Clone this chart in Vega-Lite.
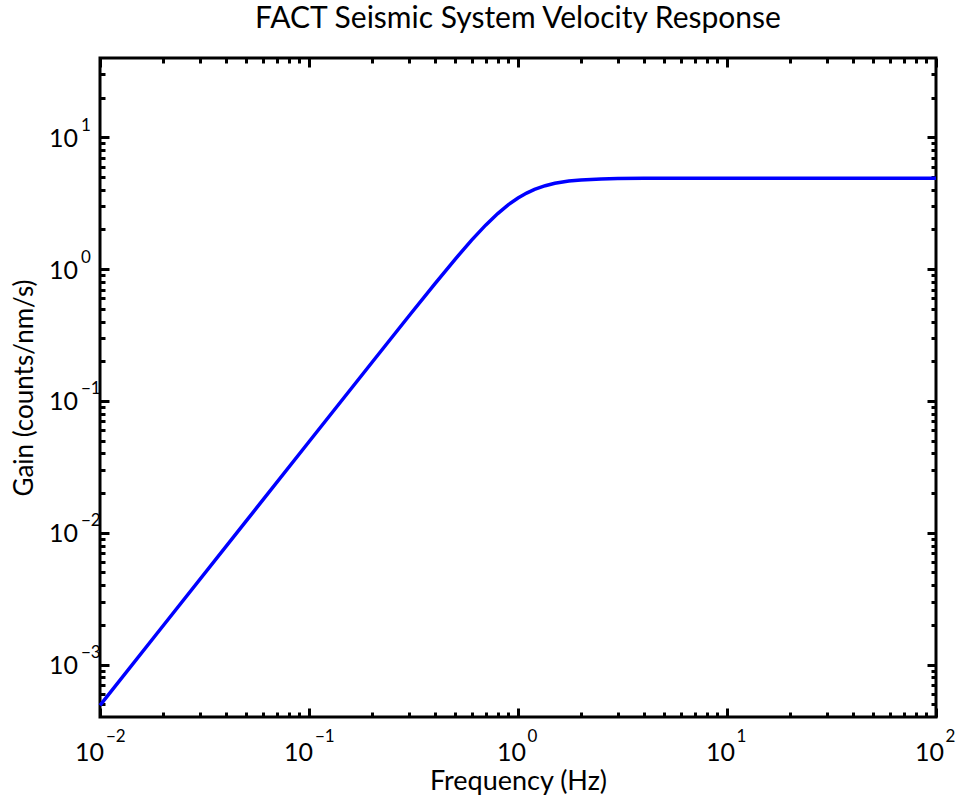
{
  "$schema": "https://vega.github.io/schema/vega-lite/v6.json",
  "width": 836,
  "height": 659,
  "autosize": "none",
  "padding": {"left": 100, "top": 58, "right": 20, "bottom": 80},
  "background": "white",
  "config": {
    "font": "Lato",
    "view": {"stroke": "black", "strokeWidth": 3},
    "axis": {"domain": false, "grid": false, "tickColor": "black", "tickWidth": 3, "labelColor": "black", "titleColor": "black", "labelFont": "Lato", "titleFont": "Lato", "labelFlush": false, "labelOverlap": false}
  },
  "title": {"text": "FACT Seismic System Velocity Response", "fontSize": 30, "fontWeight": "normal", "font": "Lato", "color": "black", "anchor": "middle", "baseline": "alphabetic", "offset": -1},
  "data": {"values": [
    {"f": 0.01, "g": 0.00049},
    {"f": 0.02, "g": 0.00196},
    {"f": 0.05, "g": 0.01225},
    {"f": 0.1, "g": 0.049},
    {"f": 0.2, "g": 0.1958},
    {"f": 0.3, "g": 0.4392},
    {"f": 0.4, "g": 0.7742},
    {"f": 0.5, "g": 1.1884},
    {"f": 0.6, "g": 1.6597},
    {"f": 0.7, "g": 2.156},
    {"f": 0.8, "g": 2.641},
    {"f": 0.9, "g": 3.084},
    {"f": 1.0, "g": 3.465},
    {"f": 1.1, "g": 3.777},
    {"f": 1.2, "g": 4.025},
    {"f": 1.35, "g": 4.296},
    {"f": 1.5, "g": 4.478},
    {"f": 1.75, "g": 4.658},
    {"f": 2, "g": 4.754},
    {"f": 2.5, "g": 4.838},
    {"f": 3, "g": 4.87},
    {"f": 4, "g": 4.89},
    {"f": 5, "g": 4.896},
    {"f": 7, "g": 4.899},
    {"f": 10, "g": 4.9},
    {"f": 20, "g": 4.9},
    {"f": 50, "g": 4.9},
    {"f": 100, "g": 4.9}
  ]},
  "layer": [
    {
      "mark": {"type": "line", "color": "#0000ff", "strokeWidth": 3.5},
      "encoding": {
        "x": {"field": "f", "type": "quantitative",
          "scale": {"type": "log", "domain": [0.01, 100], "nice": false},
          "axis": {"orient": "bottom", "title": "Frequency (Hz)", "titleFontSize": 27, "titleFontWeight": "normal", "titleY": 72, "titleBaseline": "alphabetic",
            "values": [0.01, 0.1, 1, 10, 100], "tickSize": 0, "labelPadding": 43, "labelFontSize": 25, "labelBaseline": "alphabetic", "labelAlign": "right",
            "labelOffset": {"condition": {"test": "datum.value < 1", "value": 3.5}, "value": 7.5},
            "labelExpr": "'10'"}},
        "y": {"field": "g", "type": "quantitative",
          "scale": {"type": "log", "domain": [0.0004, 40], "nice": false},
          "axis": {"orient": "left", "title": "Gain (counts/nm/s)", "titleFontSize": 26, "titleFontWeight": "normal", "titleAngle": -90, "titleX": -68, "titleY": 329.5, "titleAlign": "center", "titleBaseline": "alphabetic",
            "values": [0.001, 0.01, 0.1, 1, 10], "tickSize": 0, "labelPadding": 22.5, "labelFontSize": 25, "labelBaseline": "alphabetic", "labelAlign": "right", "labelOffset": 9,
            "labelExpr": "'10'"}}
      }
    },
    {
      "mark": {"type": "line", "opacity": 0},
      "encoding": {
        "x": {"field": "f", "type": "quantitative",
          "axis": {"orient": "bottom", "title": null, "values": [0.01, 0.1, 1, 10, 100], "tickSize": 0, "labelPadding": 24, "labelFontSize": 17, "labelBaseline": "alphabetic", "labelAlign": "left",
            "labelOffset": {"condition": {"test": "datum.value < 1", "value": 5.5}, "value": 9},
            "labelExpr": "format(round(log(datum.value)/LN10), 'd')"}},
        "y": {"field": "g", "type": "quantitative",
          "axis": {"orient": "left", "title": null, "values": [0.001, 0.01, 0.1, 1, 10], "tickSize": 0, "labelPadding": 19.5, "labelFontSize": 17, "labelBaseline": "alphabetic", "labelAlign": "left", "labelOffset": -7,
            "labelExpr": "format(round(log(datum.value)/LN10), 'd')"}}
      }
    },
    {
      "mark": {"type": "line", "opacity": 0},
      "encoding": {
        "x": {"field": "f", "type": "quantitative",
          "axis": {"orient": "bottom", "title": null, "labels": false, "tickSize": -9, "values": [0.01, 0.1, 1, 10, 100]}},
        "y": {"field": "g", "type": "quantitative",
          "axis": {"orient": "left", "title": null, "labels": false, "tickSize": -9, "values": [0.001, 0.01, 0.1, 1, 10]}}
      }
    },
    {
      "mark": {"type": "line", "opacity": 0},
      "encoding": {
        "x": {"field": "f", "type": "quantitative",
          "axis": {"orient": "bottom", "title": null, "labels": false, "tickSize": -5,
            "values": [0.02,0.03,0.04,0.05,0.06,0.07,0.08,0.09,0.2,0.3,0.4,0.5,0.6,0.7,0.8,0.9,2,3,4,5,6,7,8,9,20,30,40,50,60,70,80,90]}},
        "y": {"field": "g", "type": "quantitative",
          "axis": {"orient": "left", "title": null, "labels": false, "tickSize": -5,
            "values": [0.0005,0.0006,0.0007,0.0008,0.0009,0.002,0.003,0.004,0.005,0.006,0.007,0.008,0.009,0.02,0.03,0.04,0.05,0.06,0.07,0.08,0.09,0.2,0.3,0.4,0.5,0.6,0.7,0.8,0.9,2,3,4,5,6,7,8,9,20,30]}}
      }
    },
    {
      "mark": {"type": "line", "opacity": 0},
      "encoding": {
        "x": {"field": "f", "type": "quantitative",
          "axis": {"orient": "top", "title": null, "labels": false, "tickSize": -9, "values": [0.01, 0.1, 1, 10, 100]}},
        "y": {"field": "g", "type": "quantitative",
          "axis": {"orient": "right", "title": null, "labels": false, "tickSize": -9, "values": [0.001, 0.01, 0.1, 1, 10]}}
      }
    },
    {
      "mark": {"type": "line", "opacity": 0},
      "encoding": {
        "x": {"field": "f", "type": "quantitative",
          "axis": {"orient": "top", "title": null, "labels": false, "tickSize": -5,
            "values": [0.02,0.03,0.04,0.05,0.06,0.07,0.08,0.09,0.2,0.3,0.4,0.5,0.6,0.7,0.8,0.9,2,3,4,5,6,7,8,9,20,30,40,50,60,70,80,90]}},
        "y": {"field": "g", "type": "quantitative",
          "axis": {"orient": "right", "title": null, "labels": false, "tickSize": -5,
            "values": [0.0005,0.0006,0.0007,0.0008,0.0009,0.002,0.003,0.004,0.005,0.006,0.007,0.008,0.009,0.02,0.03,0.04,0.05,0.06,0.07,0.08,0.09,0.2,0.3,0.4,0.5,0.6,0.7,0.8,0.9,2,3,4,5,6,7,8,9,20,30]}}
      }
    }
  ],
  "resolve": {"axis": {"x": "independent", "y": "independent"}}
}
